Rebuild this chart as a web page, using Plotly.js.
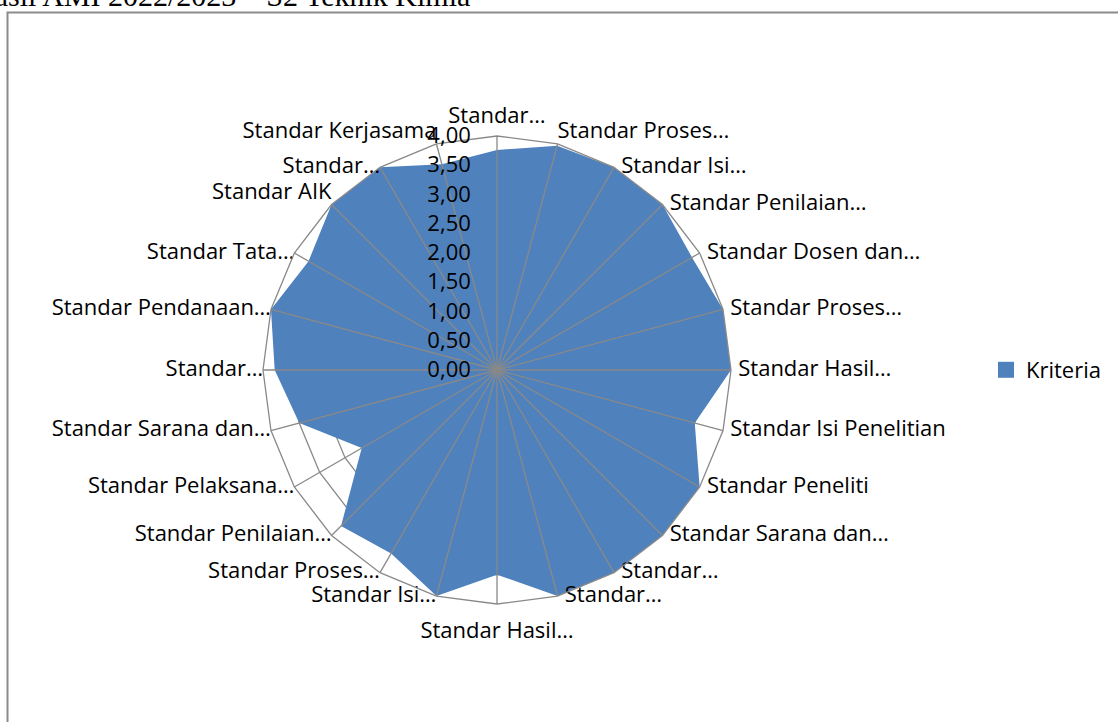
<!DOCTYPE html>
<html>
<head>
<meta charset="utf-8">
<script src="https://cdn.plot.ly/plotly-3.0.1.min.js"></script>
<style>html,body{margin:0;padding:0;background:#fff;}#chart{width:1118px;height:722px;}</style>
</head>
<body>
<div id="chart"></div>
<script>
// Category labels (as shown, truncated like the original)
var labels = [
  "Standar…", "Standar Proses…", "Standar Isi…", "Standar Penilaian…",
  "Standar Dosen dan…", "Standar Proses…", "Standar Hasil…", "Standar Isi Penelitian",
  "Standar Peneliti", "Standar Sarana dan…", "Standar…", "Standar…",
  "Standar Hasil…", "Standar Isi…", "Standar Proses…", "Standar Penilaian…",
  "Standar Pelaksana…", "Standar Sarana dan…", "Standar…", "Standar Pendanaan…",
  "Standar Tata…", "Standar AIK", "Standar…", "Standar Kerjasama"
];
// Unique category keys (labels repeat, so each category gets its own key)
var categories = labels.map(function (l, i) { return "K" + (i + 1); });
// Series values (Kriteria)
var kriteria = [
  3.76, 3.97, 4.00, 4.00,
  3.85, 4.00, 4.00, 3.50,
  4.00, 4.00, 4.00, 4.00,
  3.50, 4.00, 3.62, 3.77,
  2.67, 3.50, 3.80, 4.00,
  3.72, 4.00, 4.00, 3.64
];
var seriesName = "Kriteria";
var radialMax = 4;
var radialTicks = [0, 0.5, 1, 1.5, 2, 2.5, 3, 3.5, 4];
var titleText = "Hasil AMI 2022/2023 – S2 Teknik Kimia";

var W = 1118, H = 722;
var cx = 497, cy = 370, R = 234;
var gridColor = "#898989";
var fillColor = "#4F81BD";
var font = "Open Sans, Lato, sans-serif";
var n = categories.length;

// spokes drawn above the fill (as in the original)
var spokeTheta = [], spokeR = [];
categories.forEach(function (c) {
  spokeTheta.push(c, c, null);
  spokeR.push(0, radialMax, null);
});

// label placement around the outer ring
var labelPos = categories.map(function (c, i) {
  if (i === 0) return "top center";
  if (i === n / 2) return "bottom center";
  if (i === 1) return "top right";
  if (i === n - 1 || i === n - 3) return "top left";
  return i < n / 2 ? "middle right" : "middle left";
});
var labelPad = categories.map(function (c, i) {
  if (i === 0) return 10;
  if (i === n / 2) return 27;
  if (i === 1) return 0;
  return i < n / 2 ? 10 : 0;
});
var labelR = categories.map(function () { return radialMax; });

var traces = [
  {
    type: "scatterpolar",
    r: kriteria,
    theta: categories,
    name: seriesName,
    mode: "lines",
    fill: "toself",
    fillcolor: fillColor,
    line: { color: fillColor, width: 0 },
    hoverinfo: "skip",
    showlegend: false
  },
  {
    type: "scatterpolar",
    r: spokeR,
    theta: spokeTheta,
    mode: "lines",
    line: { color: gridColor, width: 1.3 },
    connectgaps: false,
    hoverinfo: "skip",
    showlegend: false
  },
  {
    type: "scatterpolar",
    r: labelR,
    theta: categories,
    text: labels,
    mode: "markers+text",
    textposition: labelPos,
    marker: { size: labelPad, color: "rgba(0,0,0,0)", opacity: 0, line: { width: 0 } },
    textfont: { family: font, size: 22, color: "#000" },
    cliponaxis: false,
    hoverinfo: "skip",
    showlegend: false
  },
  {
    type: "scatterpolar",
    r: [null],
    theta: [categories[0]],
    name: seriesName,
    mode: "markers",
    marker: { symbol: "square", size: 16, color: fillColor, line: { width: 0 } },
    showlegend: true
  }
];

var layout = {
  width: W, height: H,
  margin: { l: 0, r: 0, t: 0, b: 0 },
  paper_bgcolor: "#fff",
  separators: ",.",
  font: { family: font, size: 22, color: "#000" },
  showlegend: true,
  legend: {
    x: 986 / W, xanchor: "left",
    y: 1 - cy / H, yanchor: "middle",
    font: { family: font, size: 22, color: "#000" },
    bgcolor: "rgba(0,0,0,0)",
    itemclick: false
  },
  polar: {
    domain: { x: [(cx - R) / W, (cx + R) / W], y: [1 - (cy + R) / H, 1 - (cy - R) / H] },
    gridshape: "linear",
    bgcolor: "rgba(0,0,0,0)",
    angularaxis: {
      type: "category",
      categoryorder: "array",
      categoryarray: categories,
      rotation: 90,
      direction: "clockwise",
      showticklabels: false,
      ticks: "",
      showline: true,
      linecolor: gridColor,
      linewidth: 1.3,
      showgrid: false,
      layer: "above traces"
    },
    radialaxis: {
      range: [0, radialMax],
      angle: 90,
      side: "counterclockwise",
      tickmode: "array",
      tickvals: radialTicks,
      tickformat: ".2f",
      ticks: "outside",
      ticklen: 18,
      tickcolor: "rgba(0,0,0,0)",
      showline: false,
      showgrid: true,
      gridcolor: gridColor,
      gridwidth: 1.3,
      tickangle: 90,
      tickfont: { family: font, size: 22, color: "#000" },
      layer: "above traces"
    }
  },
  shapes: [
    {
      type: "rect", xref: "paper", yref: "paper",
      x0: 7.5 / W, x1: 1.05, y0: -0.05, y1: 1 - 12.5 / H,
      line: { color: "#8c8c8c", width: 2 }, fillcolor: "rgba(0,0,0,0)"
    }
  ],
  annotations: [
    {
      text: titleText, xref: "paper", yref: "paper",
      x: 472 / W, xanchor: "right",
      y: 1 - 14 / H, yanchor: "bottom",
      showarrow: false,
      font: { family: "Liberation Serif, Times New Roman, serif", size: 30, color: "#000" }
    }
  ]
};

Plotly.newPlot("chart", traces, layout, { displayModeBar: false, staticPlot: true });
</script>
</body>
</html>
